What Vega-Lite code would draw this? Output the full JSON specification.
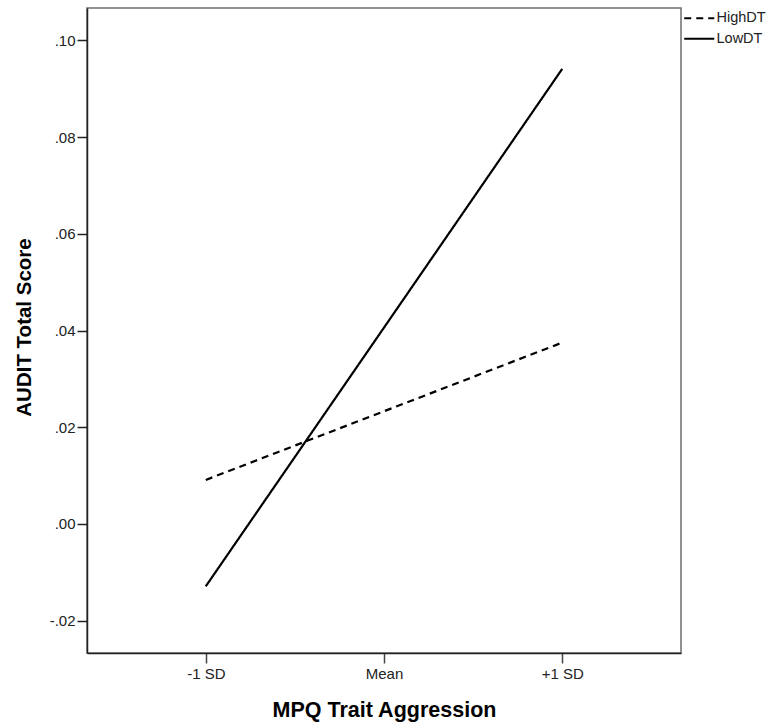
{
  "$schema": "https://vega.github.io/schema/vega-lite/v6.json",
  "width": 594,
  "height": 645,
  "autosize": {"type": "none"},
  "padding": {"left": 87, "top": 8, "right": 90, "bottom": 72},
  "background": "white",
  "config": {
    "font": "Liberation Sans",
    "view": {"stroke": "#6e6e6e", "strokeWidth": 1.5},
    "axis": {"grid": false, "labelFont": "Liberation Sans", "titleFont": "Liberation Sans"}
  },
  "data": {
    "values": [
      {"aggression": "-1 SD", "group": "HighDT", "score": 0.0091},
      {"aggression": "Mean", "group": "HighDT", "score": 0.0233},
      {"aggression": "+1 SD", "group": "HighDT", "score": 0.0375},
      {"aggression": "-1 SD", "group": "LowDT", "score": -0.0129},
      {"aggression": "Mean", "group": "LowDT", "score": 0.0406},
      {"aggression": "+1 SD", "group": "LowDT", "score": 0.0941}
    ]
  },
  "mark": {"type": "line", "color": "black", "strokeWidth": 2.2},
  "encoding": {
    "x": {
      "field": "aggression",
      "type": "ordinal",
      "sort": ["-1 SD", "Mean", "+1 SD"],
      "scale": {"type": "point", "padding": 0.6667},
      "axis": {
        "title": "MPQ Trait Aggression",
        "titleFontSize": 21.5,
        "titleFontWeight": "bold",
        "titleColor": "black",
        "titleBaseline": "alphabetic",
        "titleY": 63,
        "labelAngle": 0,
        "labelFontSize": 15,
        "labelColor": "#222",
        "labelPadding": 3,
        "tickSize": 10,
        "tickColor": "#444",
        "tickWidth": 1.5,
        "domainColor": "#222",
        "domainWidth": 1.5
      }
    },
    "y": {
      "field": "score",
      "type": "quantitative",
      "scale": {"domain": [-0.0267, 0.1067], "nice": false, "zero": false},
      "axis": {
        "title": "AUDIT Total Score",
        "titleFontSize": 20.5,
        "titleFontWeight": "bold",
        "titleColor": "black",
        "titleBaseline": "alphabetic",
        "titleX": -57,
        "titleY": 319,
        "values": [-0.02, 0, 0.02, 0.04, 0.06, 0.08, 0.1],
        "labelExpr": "datum.value < 0 ? '-' + substring(format(-datum.value, '.2f'), 1) : substring(format(datum.value, '.2f'), 1)",
        "labelFontSize": 15,
        "labelColor": "#222",
        "labelPadding": 2,
        "tickSize": 10,
        "tickColor": "#222",
        "tickWidth": 1.5,
        "domainColor": "#222",
        "domainWidth": 1.5
      }
    },
    "strokeDash": {
      "field": "group",
      "type": "nominal",
      "scale": {"domain": ["HighDT", "LowDT"], "range": [[7, 5], [1, 0]]},
      "legend": {
        "title": null,
        "orient": "none",
        "legendX": 605,
        "legendY": 3,
        "symbolType": "M-3,0L3,0",
        "symbolSize": 100,
        "symbolStrokeColor": "black",
        "symbolStrokeWidth": 2.2,
        "labelFont": "Liberation Sans",
        "labelFontSize": 14.5,
        "labelColor": "#222",
        "labelOffset": 10,
        "rowPadding": 5.5,
        "padding": 0
      }
    }
  }
}
